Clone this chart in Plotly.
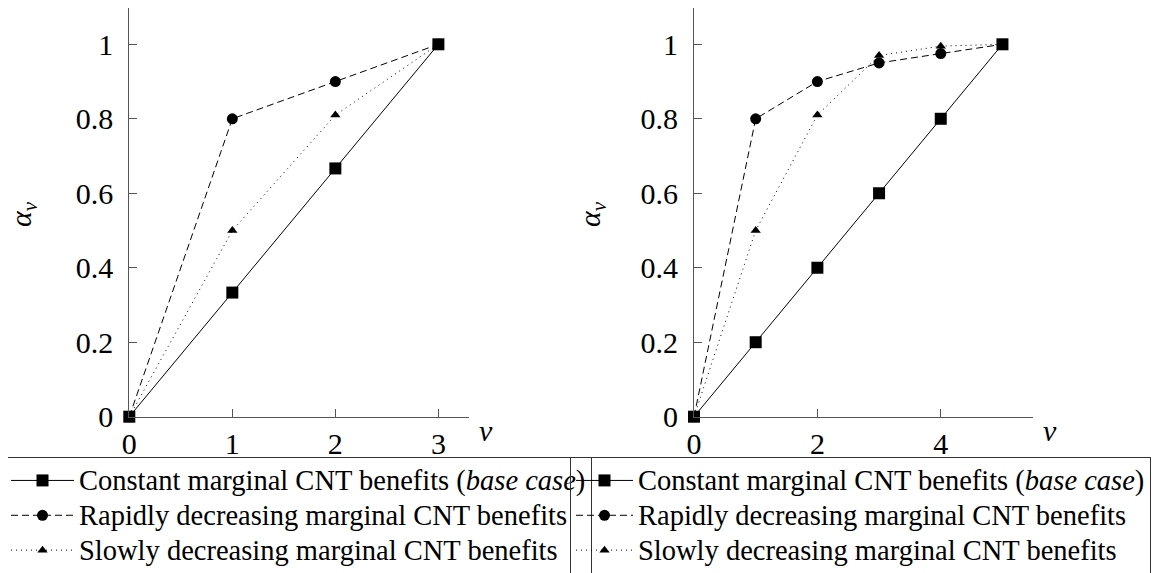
import plotly.graph_objects as go

# ---- data ----
v_left = [0, 1, 2, 3]
const_left = [0, 1/3, 2/3, 1]
rapid_left = [0, 0.8, 0.9, 1]
slow_left = [0, 0.5, 0.81, 1]

v_right = [0, 1, 2, 3, 4, 5]
const_right = [0, 0.2, 0.4, 0.6, 0.8, 1]
rapid_right = [0, 0.8, 0.9, 0.95, 0.975, 1]
slow_right = [0, 0.5, 0.81, 0.97, 0.995, 1]

names = ["Constant marginal CNT benefits (<i>base case</i>)",
         "Rapidly decreasing marginal CNT benefits",
         "Slowly decreasing marginal CNT benefits"]

y_ticks = [0, 0.2, 0.4, 0.6, 0.8, 1]
y_ticktext = ["0", "0.2", "0.4", "0.6", "0.8", "1"]
x_ticks_left = [0, 1, 2, 3]
x_ticks_right = [0, 2, 4]

FONT = "Liberation Serif"
W, H = 1160, 573
OFF = 8  # the page body adds an 8px offset; positions below are in screen pixels

styles = [
    dict(line=dict(color="black", width=1, dash="solid"),
         marker=dict(symbol="square", size=12, color="black")),
    dict(line=dict(color="black", width=1, dash="7px,4px"),
         marker=dict(symbol="circle", size=11, color="black")),
    dict(line=dict(color="black", width=1, dash="1px,4px"),
         marker=dict(symbol="triangle-up", size=9, color="black")),
]

def leg_name(s):
    return '<span style="font-size:28.5px">' + s + '</span>'

fig = go.Figure()
left_series = [const_left, rapid_left, slow_left]
right_series = [const_right, rapid_right, slow_right]
for i, ys in enumerate(left_series):
    fig.add_trace(go.Scatter(x=v_left, y=ys, mode="lines+markers", name=leg_name(names[i]),
                             xaxis="x", yaxis="y", legend="legend",
                             cliponaxis=False, **styles[i]))
for i, ys in enumerate(right_series):
    fig.add_trace(go.Scatter(x=v_right, y=ys, mode="lines+markers", name=leg_name(names[i]),
                             xaxis="x2", yaxis="y2", legend="legend2",
                             cliponaxis=False, **styles[i]))

def px_x(p):
    return (p - OFF) / W

def px_y(p):
    return 1 - (p - OFF) / H

axis_common = dict(showgrid=False, zeroline=False, showline=True, linecolor="#555",
                   linewidth=1, ticks="inside", ticklen=8, tickcolor="#555", tickwidth=1,
                   automargin=False,
                   tickfont=dict(family=FONT, size=30, color="black"), fixedrange=True)

Y0_PX, Y1_PX = 416.7, 44.3           # screen rows of y=0 and y=1
Y_TOP = (Y0_PX - OFF) / (Y0_PX - Y1_PX)  # value at the top of the figure
ydom = [px_y(Y0_PX), 1.0]
leg_common = dict(yanchor="top", y=px_y(457), xanchor="left",
                  bordercolor="#333", borderwidth=1, bgcolor="rgba(0,0,0,0)",
                  font=dict(family=FONT, size=24.5, color="black"), tracegroupgap=0)
fig.update_layout(
    width=W, height=H,
    margin=dict(l=0, r=0, t=0, b=0, autoexpand=False),
    paper_bgcolor="white", plot_bgcolor="white",
    xaxis=dict(domain=[px_x(129.3), px_x(469.3)], range=[0, 3.3], anchor="y",
               tickvals=x_ticks_left, ticktext=[str(t) for t in x_ticks_left], **axis_common),
    yaxis=dict(domain=ydom, range=[0, Y_TOP], anchor="x", ticklabelstandoff=9,
               tickvals=y_ticks, ticktext=y_ticktext, **axis_common),
    xaxis2=dict(domain=[px_x(694), px_x(1033.3)], range=[0, 5.5], anchor="y2",
                tickvals=x_ticks_right, ticktext=[str(t) for t in x_ticks_right], **axis_common),
    yaxis2=dict(domain=ydom, range=[0, Y_TOP], anchor="x2", ticklabelstandoff=9,
                tickvals=y_ticks, ticktext=y_ticktext, **axis_common),
    legend=dict(x=px_x(5), itemwidth=63, **leg_common),
    legend2=dict(x=px_x(570), itemwidth=57, **leg_common),
    showlegend=True,
)

annots = [
    dict(text="<i>v</i>", x=px_x(486), y=px_y(431)),
    dict(text="<i>v</i>", x=px_x(1050), y=px_y(431)),
    dict(text="<i>α</i><sub><i>v</i></sub>", x=px_x(23), y=px_y(214), textangle=-90),
    dict(text="<i>α</i><sub><i>v</i></sub>", x=px_x(592), y=px_y(214), textangle=-90),
]
for a in annots:
    fig.add_annotation(xref="paper", yref="paper", showarrow=False,
                       xanchor="center", yanchor="middle",
                       font=dict(family=FONT, size=30, color="black"), **a)

fig.write_html("out.html")
